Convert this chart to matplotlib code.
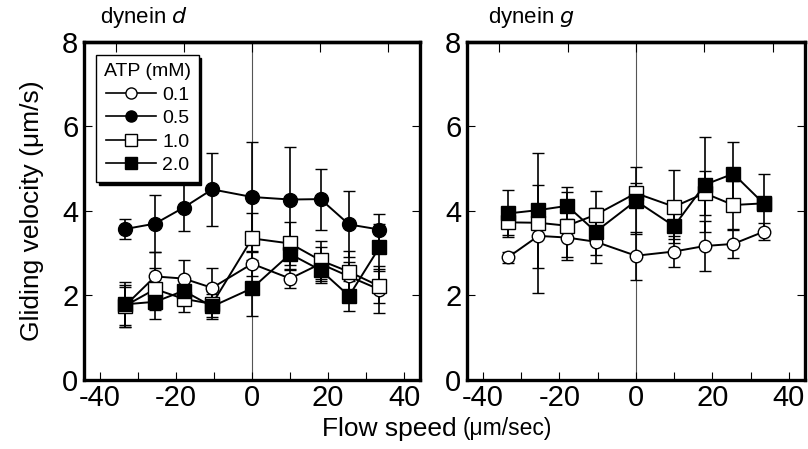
import matplotlib
matplotlib.use("Agg")
import matplotlib.pyplot as plt
from matplotlib.lines import Line2D

plt.rcParams['font.family'] = ['Liberation Sans', 'DejaVu Sans']
plt.rcParams['axes.unicode_minus'] = False

flow = [-33.5, -25.5, -18, -10.5, 0, 10, 18, 25.5, 33.5]
atp_labels = ["0.1", "0.5", "1.0", "2.0"]

# dynein d
d_01 = [1.75, 2.45, 2.40, 2.18, 2.75, 2.40, 2.75, 2.45, 2.14]
d_01_err = [0.5, 0.57, 0.44, 0.46, 0.3, 0.23, 0.4, 0.35, 0.56]
d_05 = [3.57, 3.70, 4.08, 4.51, 4.33, 4.27, 4.28, 3.68, 3.56]
d_05_err = [0.23, 0.67, 0.55, 0.86, 1.31, 1.25, 0.72, 0.78, 0.37]
d_10 = [1.75, 2.15, 1.92, 1.80, 3.35, 3.23, 2.83, 2.56, 2.22]
d_10_err = [0.45, 0.5, 0.3, 0.3, 0.61, 0.52, 0.45, 0.5, 0.4]
d_20 = [1.79, 1.85, 2.11, 1.74, 2.17, 2.98, 2.60, 1.99, 3.14]
d_20_err = [0.53, 0.4, 0.3, 0.3, 0.66, 0.37, 0.3, 0.35, 0.55]

# dynein g
g_01 = [2.90, 3.41, 3.37, 3.27, 2.94, 3.04, 3.17, 3.22, 3.51]
g_01_err = [0.14, 0.75, 0.45, 0.5, 0.57, 0.36, 0.6, 0.34, 0.2]
g_10 = [3.73, 3.72, 3.65, 3.91, 4.42, 4.10, 4.42, 4.14, 4.18]
g_10_err = [0.3, 1.65, 0.8, 0.55, 0.25, 0.86, 0.52, 0.56, 0.12]
g_20 = [3.94, 4.02, 4.12, 3.51, 4.24, 3.64, 4.62, 4.88, 4.17]
g_20_err = [0.56, 0.6, 0.44, 0.55, 0.79, 0.3, 1.12, 0.74, 0.7]

x_ticks = [-40, -20, 0, 20, 40]
y_ticks = [0, 2, 4, 6, 8]
top_ticks = [-35.8, -17.9, 0, 17.9, 35.8]

styles = {
    "0.1": dict(marker='o', mfc='white', mec='black', ms=9),
    "0.5": dict(marker='o', mfc='black', mec='black', ms=10),
    "1.0": dict(marker='s', mfc='white', mec='black', ms=10),
    "2.0": dict(marker='s', mfc='black', mec='black', ms=10),
}

fig = plt.figure(figsize=(8.08, 4.49), dpi=100)
axL = fig.add_axes([0.104, 0.1537, 0.416, 0.753])
axR = fig.add_axes([0.578, 0.1537, 0.418, 0.753])


def draw(ax, series, title, tx):
    ax.axvline(0, color='#555555', lw=0.8, zorder=0)
    for key, y, e in series:
        st = styles[key]
        ax.errorbar(flow, y, yerr=e, color='black', lw=1.4, elinewidth=1.2,
                    capsize=4, capthick=1.2, mew=1.0, zorder=3, **st)
    ax.set_xlim(-44.2, 44.2)
    ax.set_ylim(0, 8)
    ax.set_xticks(x_ticks)
    ax.set_xticks(range(-40, 41, 10), minor=True)
    ax.set_yticks(y_ticks)
    ax.tick_params(axis='both', which='both', direction='in', length=6, width=0.8,
                   labelsize=21, top=False, right=True)
    ax.tick_params(axis='x', pad=3)
    ax.tick_params(axis='y', pad=4)
    for s in ax.spines.values():
        s.set_linewidth(2.4)
    sec = ax.secondary_xaxis('top')
    sec.set_xticks(top_ticks)
    sec.tick_params(direction='in', length=7, width=0.8, labeltop=False)
    sec.spines['top'].set_linewidth(2.4)
    ax.text(tx, 1.035, title, transform=ax.transAxes, fontsize=16,
            ha='left', va='bottom')
    return ax


draw(axL, [("0.1", d_01, d_01_err), ("0.5", d_05, d_05_err),
           ("1.0", d_10, d_10_err), ("2.0", d_20, d_20_err)], "dynein $\\it{d}$", 0.048)
draw(axR, [("0.1", g_01, g_01_err), ("1.0", g_10, g_10_err),
           ("2.0", g_20, g_20_err)], "dynein $\\it{g}$", 0.062)

axL.set_ylabel("Gliding velocity (μm/s)", fontsize=19, labelpad=13)

fig.text(0.398, 0.018, "Flow speed", fontsize=19, ha='left', va='bottom')
fig.text(0.572, 0.020, "(μm/sec)", fontsize=16.5, ha='left', va='bottom')

handles = [Line2D([0], [0], color='black', lw=1.2, marker=styles[k]['marker'],
                  mfc=styles[k]['mfc'], mec='black', ms=8)
           for k in atp_labels]
leg = axL.legend(handles, atp_labels, title="ATP (mM)", loc='upper left',
                 bbox_to_anchor=(0.036, 0.96), fontsize=14, title_fontsize=14,
                 frameon=True, fancybox=False, shadow={'color': 'black', 'alpha': 1},
                 handlelength=2.6, handletextpad=0.3, labelspacing=0.3,
                 borderpad=0.4, borderaxespad=0)
leg.get_frame().set_edgecolor('black')
leg.get_frame().set_linewidth(1.0)

fig.savefig("out.png", dpi=100)
